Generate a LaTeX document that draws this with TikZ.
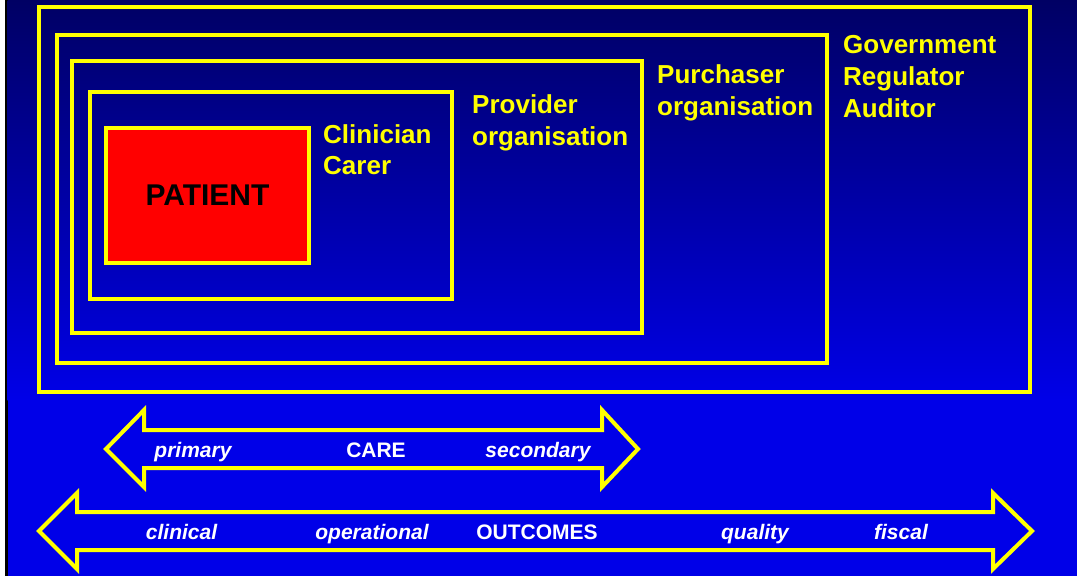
\documentclass[tikz,border=0pt]{standalone}
\usepackage{fontspec}
\setmainfont{Liberation Sans}
\definecolor{topblue}{RGB}{0,0,100}
\definecolor{lowblue}{RGB}{0,0,232}
\definecolor{ylw}{RGB}{255,255,0}
\tikzset{
  frame/.style={draw=ylw, line width=4pt},
  ylabel/.style={anchor=base west, inner sep=0pt, text=ylw, font=\fontsize{26}{32}\selectfont\bfseries},
  wlabel/.style={anchor=base, inner sep=0pt, text=white, font=\fontsize{21}{25}\selectfont\bfseries},
  wital/.style={wlabel, font=\fontsize{21}{25}\selectfont\bfseries\itshape},
  bigarrow/.style={draw=ylw, line width=4pt, line join=miter},
}
\begin{document}
\begin{tikzpicture}[x=1pt,y=-1pt]
\useasboundingbox (0,0) rectangle (1077,576);
% background
\fill[white] (0,0) rectangle (1077,576);
\fill[black] (5,0) rectangle (7.5,576);
\shade[top color=topblue, bottom color=lowblue] (7.5,0) rectangle (1077,400);
\fill[lowblue] (7.5,399.5) rectangle (1077,576);
% nested frames
\draw[frame] (39,7) rectangle (1030,392);
\draw[frame] (57,35) rectangle (827,363);
\draw[frame] (72,61) rectangle (642,333);
\draw[frame] (90,92) rectangle (452,299);
\node[draw=ylw, line width=4pt, fill=red, minimum width=203pt, minimum height=135pt, inner sep=0pt,
      font=\fontsize{30}{36}\selectfont\bfseries, text=black] (patient) at (207.5,195) {PATIENT};
% labels
\node[ylabel, font=\fontsize{26}{31}\selectfont\bfseries] (clin) at (323,143) {\begin{tabular}[t]{@{}l@{}}Clinician\\Carer\end{tabular}};
\node[ylabel] (prov) at (472,113) {\begin{tabular}[t]{@{}l@{}}Provider\\organisation\end{tabular}};
\node[ylabel] (purch) at (657,83) {\begin{tabular}[t]{@{}l@{}}Purchaser\\organisation\end{tabular}};
\node[ylabel] (gov) at (843,53) {\begin{tabular}[t]{@{}l@{}}Government\\Regulator\\Auditor\end{tabular}};
% CARE arrow
\draw[bigarrow] (106,449) -- (144,410) -- (144,430) -- (602,430) -- (602,410) -- (638,449)
  -- (602,487) -- (602,468) -- (144,468) -- (144,487) -- cycle;
\node[wital] (primary) at (193,457) {primary};
\node[wlabel] (care) at (376,457) {CARE};
\node[wital] (secondary) at (538,457) {secondary};
% OUTCOMES arrow
\draw[bigarrow] (39,531) -- (77,493) -- (77,512) -- (993,512) -- (993,493) -- (1032,531)
  -- (993,569) -- (993,550) -- (77,550) -- (77,569) -- cycle;
\node[wital] (clinical) at (181.5,539) {clinical};
\node[wital] (operational) at (372,539) {operational};
\node[wlabel] (outcomes) at (537,539) {OUTCOMES};
\node[wital] (quality) at (755,539) {quality};
\node[wital] (fiscal) at (901,539) {fiscal};
\end{tikzpicture}
\end{document}
